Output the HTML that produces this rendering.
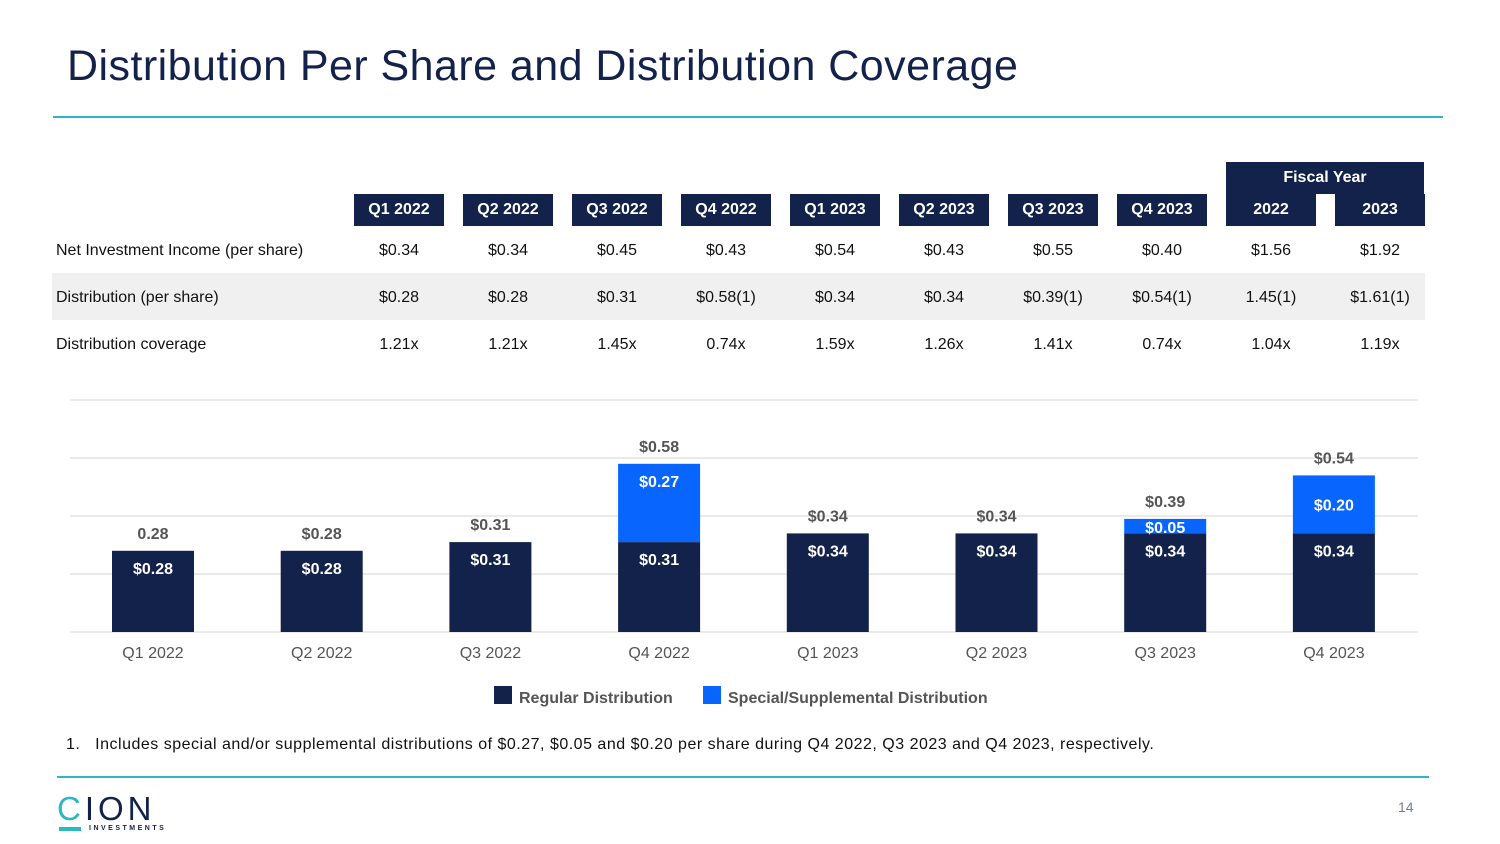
<!DOCTYPE html>
<html><head><meta charset="utf-8"><style>
body{margin:0;width:1500px;height:844px;background:#fff;font-family:"Liberation Sans",sans-serif;position:relative;overflow:hidden;color:#111}
.abs{position:absolute}
.hd{position:absolute;background:#13224b;color:#fff;font-weight:bold;font-size:16px;text-align:center;line-height:32px;height:32px}
.cell{position:absolute;width:100px;text-align:center;font-size:16px}
.lbl{position:absolute;left:56px;font-size:16px}
</style></head><body>
<div class="abs" style="left:67px;top:42px;font-size:43px;letter-spacing:0.45px;color:#13224b">Distribution Per Share and Distribution Coverage</div>
<div class="abs" style="left:53px;top:116px;width:1390px;height:2px;background:#2bb8c4"></div>
<div id="table"></div>
<svg id="chart" class="abs" style="left:0;top:380px" width="1500" height="340"></svg>
<div class="abs" style="left:66px;top:736px;font-size:16px;letter-spacing:0.5px">1.&nbsp;&nbsp; Includes special and/or supplemental distributions of $0.27, $0.05 and $0.20 per share during Q4 2022, Q3 2023 and Q4 2023, respectively.</div>
<div class="abs" style="left:57px;top:776px;width:1372px;height:2px;background:#2bb8c4"></div>
<div class="abs" style="left:57px;top:792px;width:110px;height:44px">
<div style="position:absolute;left:0;top:0;font-size:33px;letter-spacing:4px;color:#13224b;line-height:33px"><span style="color:#2bb8c4">C</span>ION</div>
<div style="position:absolute;left:2px;top:35px;width:22px;height:4px;background:#2bb8c4"></div>
<div style="position:absolute;left:32px;top:33px;font-size:7px;letter-spacing:2.5px;font-weight:bold;color:#13224b">INVESTMENTS</div>
</div>
<div class="abs" style="left:1398px;top:799px;font-size:14px;color:#6b7fa8">14</div>
<script>
const colHeaders=["Q1 2022","Q2 2022","Q3 2022","Q4 2022","Q1 2023","Q2 2023","Q3 2023","Q4 2023","2022","2023"];
const niiRow=["$0.34","$0.34","$0.45","$0.43","$0.54","$0.43","$0.55","$0.40","$1.56","$1.92"];
const distRow=["$0.28","$0.28","$0.31","$0.58(1)","$0.34","$0.34","$0.39(1)","$0.54(1)","1.45(1)","$1.61(1)"];
const covRow=["1.21x","1.21x","1.45x","0.74x","1.59x","1.26x","1.41x","0.74x","1.04x","1.19x"];
const T=document.getElementById('table');
const cx=i=>399+i*109;
let band=document.createElement('div');band.className='abs';band.style.cssText='left:52px;top:273px;width:1373px;height:47px;background:#f0f0f0';


T.appendChild(band);
let fy=document.createElement('div');fy.className='hd';fy.style.cssText='left:1226px;top:162px;width:198px';fy.textContent='Fiscal Year';


T.appendChild(fy);
colHeaders.forEach((h,i)=>{const d=document.createElement('div');d.className='hd';d.style.left=(cx(i)-45)+'px';d.style.top='194px';d.style.width='90px';d.textContent=h;


T.appendChild(d);});
const rows=[["Net Investment Income (per share)",niiRow,252],["Distribution (per share)",distRow,299],["Distribution coverage",covRow,346]];
rows.forEach(r=>{const l=document.createElement('div');l.className='lbl';l.style.top=(r[2]-10)+'px';l.textContent=r[0];


T.appendChild(l);
r[1].forEach((v,i)=>{const c=document.createElement('div');c.className='cell';c.style.left=(cx(i)-50)+'px';c.style.top=(r[2]-10)+'px';c.textContent=v;


T.appendChild(c);});});

const categories=["Q1 2022","Q2 2022","Q3 2022","Q4 2022","Q1 2023","Q2 2023","Q3 2023","Q4 2023"];
const regular=[0.28,0.28,0.31,0.31,0.34,0.34,0.34,0.34];
const special=[0,0,0,0.27,0,0,0.05,0.20];
const totalLabels=["0.28","$0.28","$0.31","$0.58","$0.34","$0.34","$0.39","$0.54"];
const gridTicks=[0,0.2,0.4,0.6,0.8];
const S=document.getElementById('chart'),NS='http://www.w3.org/2000/svg';
const base=252,scale=290;
const y=v=>base-v*scale, x=i=>153+i*168.7;
function el(t,a,txt){const e=document.createElementNS(NS,t);for(const k in a)e.setAttribute(k,a[k]);if(txt!=null)e.textContent=txt;S.appendChild(e);return e;}
gridTicks.forEach(t=>{const g=el('line',{x1:70,x2:1418,y1:y(t),y2:y(t),stroke:'#e4e4e4','stroke-width':1.5});

});
categories.forEach((c,i)=>{
 const r=el('rect',{x:x(i)-41,y:y(regular[i]),width:82,height:regular[i]*scale,fill:'#13224b'});
 
 
 const rl=el('text',{x:x(i),y:y(regular[i])+23,'text-anchor':'middle',fill:'#fff','font-size':16,'font-weight':'bold'},'$'+regular[i].toFixed(2));
 
 
 if(special[i]>0){
  const top=regular[i]+special[i];
  const s=el('rect',{x:x(i)-41,y:y(top),width:82,height:special[i]*scale,fill:'#0866ff'});
  
  
  const sy=special[i]<0.1?y(top)+14:(special[i]>0.25?y(top)+23:y(top)+special[i]*scale/2+6);
  const sl=el('text',{x:x(i),y:sy,'text-anchor':'middle',fill:'#fff','font-size':16,'font-weight':'bold'},'$'+special[i].toFixed(2));
  
  
 }
 const tot=regular[i]+special[i];
 const tl=el('text',{x:x(i),y:y(tot)-12,'text-anchor':'middle',fill:'#555','font-size':16,'font-weight':'bold'},totalLabels[i]);
 
 
 const cl=el('text',{x:x(i),y:base+26,'text-anchor':'middle',fill:'#555','font-size':16},c);
 
 
});
const lg1=el('rect',{x:494,y:306,width:18,height:18,fill:'#13224b'});


const lt1=el('text',{x:519,y:323,fill:'#555','font-size':16,'font-weight':'bold'},'Regular Distribution');


const lg2=el('rect',{x:703,y:306,width:18,height:18,fill:'#0866ff'});


const lt2=el('text',{x:728,y:323,fill:'#555','font-size':16,'font-weight':'bold'},'Special/Supplemental Distribution');


</script>
</body></html>
